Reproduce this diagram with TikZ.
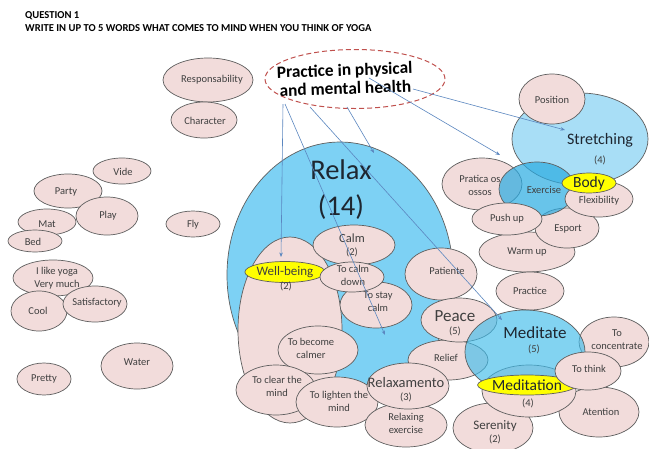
\documentclass[tikz,border=0pt]{standalone}
\usepackage{fontspec}
\setmainfont{Carlito}
\usetikzlibrary{shapes.geometric,arrows.meta}

\definecolor{pinkc}{HTML}{F2DCDB}
\definecolor{edgec}{HTML}{5E5E5E}
\definecolor{relaxc}{HTML}{7DD1F4}
\definecolor{stretchc}{HTML}{A8DEF6}
\definecolor{exc}{HTML}{29ABE2}
\definecolor{medc}{HTML}{3FBCEB}
\definecolor{yel}{HTML}{FFFF00}
\definecolor{txtc}{HTML}{404040}
\definecolor{bigtxt}{HTML}{1E2630}
\definecolor{arrc}{HTML}{5B87C0}
\definecolor{dashc}{HTML}{C0504D}

\newcommand\fs[2]{\fontsize{#1}{#2}\selectfont}

% ellipse bubble: name, centre, width, height, text position, text
\newcommand\bubble[6]{%
  \node[bub, minimum width=#3pt, minimum height=#4pt] (#1) at (#2) {};
  \node[lbl] (#1-t) at (#5) {#6};}

\tikzset{
  bub/.style={ellipse, draw=edgec, line width=0.7pt, fill=pinkc, inner sep=0pt},
  hilite/.style={ellipse, draw=edgec, line width=0.7pt, fill=yel, inner sep=0pt},
  lbl/.style={text=txtc, align=center, inner sep=0pt, font=\fs{10.5}{13}},
  big/.style={text=bigtxt, align=center, inner sep=0pt},
  arr/.style={draw=arrc, line width=0.6pt, -{Stealth[length=4.5pt,width=3.5pt]}},
}

\begin{document}
\begin{tikzpicture}[x=1pt,y=-1pt]
\useasboundingbox (0,0) rectangle (649,448);
\fill[white] (0,0) rectangle (649,448);

% heading
\node[anchor=base west, inner sep=0pt, font=\bfseries\fs{10.6}{12}] (q1) at (25,18) {QUESTION 1};
\node[anchor=base west, inner sep=0pt, font=\bfseries\fs{10.6}{12}] (q2) at (25,31)
  {WRITE IN UP TO 5 WORDS WHAT COMES TO MIND WHEN YOU THINK OF YOGA};

% central idea
\node[ellipse, draw=dashc, line width=1pt, dash pattern=on 5pt off 3pt, fill=white,
      minimum width=180pt, minimum height=59pt, inner sep=0pt] (prac) at (355,79) {};
\node[text=black, align=center, inner sep=0pt, rotate=2, font=\bfseries\fs{17.3}{18.5}] (prac-t) at (345,79)
  {Practice in physical\\and mental health};

% loose words on the left
\bubble{resp}{208,80}{90}{44}{212,80}{Responsability}
\bubble{char}{204,120}{66}{36}{205,121}{Character}
\bubble{vide}{122,171}{58}{26}{123,172}{Vide}
\bubble{party}{68,191}{68}{34}{66,192}{Party}
\bubble{mat}{47,222}{58}{26}{47,224}{Mat}
\bubble{play}{107,216}{62}{38}{108,216}{Play}
\bubble{bed}{35,241}{54}{22}{33,242}{Bed}
\bubble{fly}{193,224}{54}{26}{193,225}{Fly}
\bubble{ilike}{53,278}{80}{36}{57,278}{I like yoga\\Very much}
\bubble{cool}{39,311}{56}{40}{38,311}{Cool}
\bubble{satis}{95,304}{64}{36}{97,303}{Satisfactory}
\bubble{water}{137,366}{72}{46}{137,362}{Water}
\bubble{pretty}{44,379}{54}{32}{44,379}{Pretty}

% Relax group
\node[ellipse, draw=edgec, line width=0.7pt, fill=relaxc, inner sep=0pt,
      minimum width=226pt, minimum height=266pt] (relax) at (340,275) {};
\node[big, font=\fs{28.5}{36}] (relax-t) at (341,190) {Relax\\(14)};
\node[bub, minimum width=104pt, minimum height=186pt] (wellzone) at (290,330) {};
\node[hilite, minimum width=66pt, minimum height=21pt, font=\fs{13}{14}, text=txtc] (well) at (285,272) {Well-being};
\node[lbl] (well-n) at (286,286) {(2)};
\bubble{stay}{376,305}{72}{46}{378,302}{To stay\\calm}
\bubble{calm}{354,245}{82}{40}{352,245}{{\fs{12.5}{14}Calm}\\(2)}
\bubble{down}{352,277}{64}{30}{353,275}{To calm\\down}
\bubble{become}{318,350}{80}{48}{311,348}{To become\\calmer}
\bubble{clear}{276,390}{80}{50}{277,386}{To clear the\\mind}
\bubble{lighten}{337,402}{82}{50}{339,401}{To lighten the\\mind}
\bubble{patiente}{441,274}{72}{52}{447,271}{Patiente}
\bubble{relief}{448,360}{80}{40}{446,358}{Relief}
\bubble{peace}{459,320}{76}{44}{455,323}{{\fs{17}{17}Peace}\\(5)}
\bubble{relaxex}{406,425}{82}{44}{406,423}{Relaxing\\exercise}
\bubble{relaxam}{408,386}{82}{46}{406,390}{{\fs{14.5}{15}Relaxamento}\\(3)}

% Stretching group
\node[ellipse, draw=edgec, line width=0.7pt, fill=stretchc, inner sep=0pt,
      minimum width=136pt, minimum height=92pt] (stretch) at (580,139) {};
\node[big, font=\fs{16}{16}] (stretch-t) at (600,140) {Stretching};
\node[lbl] (stretch-n) at (600,160) {(4)};
\bubble{position}{552,99}{66}{50}{552,100}{Position}
\bubble{pratica}{482,184}{80}{52}{480,185}{Pratica os\\ossos}
\bubble{warm}{527,252}{96}{40}{527,252}{Warm up}
\bubble{esport}{567,228}{64}{40}{568,229}{Esport}
\node[ellipse, draw=edgec, line width=0.7pt, fill=exc, fill opacity=0.7, inner sep=0pt,
      minimum width=76pt, minimum height=54pt] (exercise) at (537,189) {};
\node[lbl] (exercise-t) at (544,190) {Exercise};
\bubble{pushup}{507,219}{70}{32}{507,219}{Push up}
\bubble{flex}{599,199}{68}{36}{599,201}{Flexibility}
\node[hilite, minimum width=54pt, minimum height=20pt, font=\fs{15.5}{16}, text=bigtxt] (body) at (589,183) {Body};
\bubble{practice}{530,291}{68}{38}{530,291}{Practice}

% Meditate group
\bubble{serenity}{493,428}{80}{50}{495,432}{{\fs{13}{15}Serenity}\\(2)}
\bubble{conc}{614,342}{70}{50}{617,340}{To\\concentrate}
\bubble{atention}{599,412}{80}{50}{601,412}{Atention}
\node[bub, minimum width=94pt, minimum height=52pt] (medpink) at (529,391) {};
\node[ellipse, draw=edgec, line width=0.7pt, fill=medc, fill opacity=0.65, inner sep=0pt,
      minimum width=120pt, minimum height=84pt] (meditate) at (525,352) {};
\node[big, font=\fs{17}{17}] (meditate-t) at (535,333) {Meditate};
\node[lbl] (meditate-n) at (534,349) {(5)};
\node[hilite, minimum width=80pt, minimum height=20pt, font=\fs{15.5}{16}, text=bigtxt] (meditation) at (527,385) {Meditation};
\node[lbl] (meditation-n) at (528,403) {(4)};
\bubble{think}{588,371}{66}{38}{589,369}{To think}

% arrows from the central idea
\coordinate (a1s) at (283,104); \coordinate (a1e) at (281,257);
\coordinate (a2s) at (285,104); \coordinate (a2e) at (385,335);
\coordinate (a3s) at (310,107); \coordinate (a3e) at (502,320);
\coordinate (a4s) at (347,107); \coordinate (a4e) at (374,153);
\coordinate (a5s) at (369,78);  \coordinate (a5e) at (500,155);
\coordinate (a6s) at (413,89);  \coordinate (a6e) at (565,130);
\foreach \i in {1,...,6} {\draw[arr] (a\i s) -- (a\i e);}
\end{tikzpicture}
\end{document}
